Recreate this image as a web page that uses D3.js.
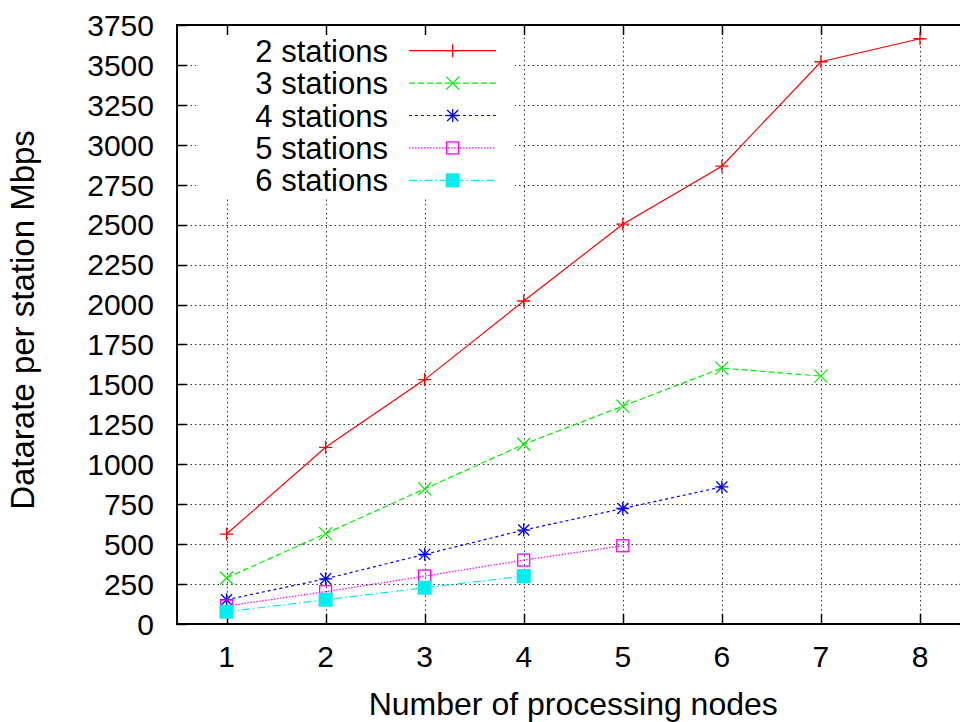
<!DOCTYPE html>
<html lang="en">
<head>
<meta charset="UTF-8">
<title>Datarate per station</title>
<script src="https://d3js.org/d3.v7.min.js"></script>
<style>
  body { margin: 0; background: #fff; }
  svg text { font-family: 'Liberation Sans', Arial, Helvetica, sans-serif; fill: #000; }
</style>
</head>
<body>
<svg id="chart" width="960" height="722"></svg>
<script>
// values
var nodes = [1, 2, 3, 4, 5, 6, 7, 8];
var st2 = [563, 1106, 1530, 2022, 2503, 2866, 3520, 3664];
var st3 = [288, 566, 846, 1125, 1364, 1602, 1552];
var st4 = [152, 283, 436, 588, 723, 858];
var st5 = [113, 202, 300, 400, 490];
var st6 = [77, 152, 227, 300];

var seriesNames = ['2 stations', '3 stations', '4 stations', '5 stations', '6 stations'];
var seriesValues = [st2, st3, st4, st5, st6];
var colors = ['#ff0000', '#00ee00', '#0000ff', '#ff00ff', '#00eeee'];
var dashes = [null, '6,3', '3,3', '1.5,1.5', '8,3,1.5,3'];
var markers = ['plus', 'cross', 'star', 'box', 'fbox'];

var yTicks = d3.range(0, 3751, 250);

var svg = d3.select('#chart');
var mLeft = 177, mTop = 25, mRight = 969.5, mBottom = 624;

var x = d3.scaleLinear().domain([0.5, 8.5]).range([mLeft, mRight]);
var y = d3.scaleLinear().domain([0, 3750]).range([mBottom, mTop]);

svg.append('defs').append('clipPath').attr('id', 'clip')
  .append('rect').attr('x', mLeft).attr('y', mTop)
  .attr('width', mRight - mLeft).attr('height', mBottom - mTop);

// grid
var grid = svg.append('g').attr('stroke', '#333').attr('stroke-width', 1)
  .attr('stroke-dasharray', '1.5,3');
grid.selectAll('.gx').data(nodes).enter().append('line')
  .attr('x1', function (d) { return Math.round(x(d)) + 0.5; })
  .attr('x2', function (d) { return Math.round(x(d)) + 0.5; })
  .attr('y1', mBottom).attr('y2', mTop);
grid.selectAll('.gy').data(yTicks.slice(1, -1)).enter().append('line')
  .attr('y1', function (d) { return Math.round(y(d)) + 0.5; })
  .attr('y2', function (d) { return Math.round(y(d)) + 0.5; })
  .attr('x1', mLeft).attr('x2', mRight);

// legend background hides the grid behind it
svg.append('rect').attr('x', 196).attr('y', 34).attr('width', 319).attr('height', 163)
  .attr('fill', '#fff');

// ticks (inward, mirrored)
var tl = 10;
var ticks = svg.append('g').attr('stroke', '#000').attr('stroke-width', 1.5);
nodes.forEach(function (d) {
  var px = Math.round(x(d)) + 0.5;
  ticks.append('line').attr('x1', px).attr('x2', px).attr('y1', mBottom).attr('y2', mBottom - tl);
  ticks.append('line').attr('x1', px).attr('x2', px).attr('y1', mTop).attr('y2', mTop + tl);
});
yTicks.forEach(function (d) {
  var py = Math.round(y(d)) + 0.5;
  ticks.append('line').attr('x1', mLeft).attr('x2', mLeft + tl).attr('y1', py).attr('y2', py);
  ticks.append('line').attr('x1', mRight).attr('x2', mRight - tl).attr('y1', py).attr('y2', py);
});

// tick labels
svg.append('g').selectAll('text').data(yTicks).enter().append('text')
  .attr('x', 154).attr('y', function (d) { return y(d); }).attr('dy', '0.36em')
  .attr('text-anchor', 'end').attr('font-size', 30).text(function (d) { return d; });
svg.append('g').selectAll('text').data(nodes).enter().append('text')
  .attr('x', function (d) { return x(d); }).attr('y', 667)
  .attr('text-anchor', 'middle').attr('font-size', 30).text(function (d) { return d; });

// axis titles
svg.append('text').attr('x', (mLeft + mRight) / 2).attr('y', 715)
  .attr('text-anchor', 'middle').attr('font-size', 32).text('Number of processing nodes');
svg.append('text').attr('transform', 'translate(34,320) rotate(-90)')
  .attr('text-anchor', 'middle').attr('font-size', 33).text('Datarate per station Mbps');

function drawMarker(g, type, cx, cy, color) {
  var s = 6.5;
  if (type === 'plus' || type === 'star') {
    g.append('path').attr('d', 'M' + (cx - s) + ',' + cy + 'H' + (cx + s) + 'M' + cx + ',' + (cy - s) + 'V' + (cy + s))
      .attr('stroke', color).attr('stroke-width', 1.3).attr('fill', 'none');
  }
  if (type === 'cross' || type === 'star') {
    var k = type === 'star' ? 5.5 : 6.5;
    g.append('path').attr('d', 'M' + (cx - k) + ',' + (cy - k) + 'L' + (cx + k) + ',' + (cy + k) +
      'M' + (cx - k) + ',' + (cy + k) + 'L' + (cx + k) + ',' + (cy - k))
      .attr('stroke', color).attr('stroke-width', 1.3).attr('fill', 'none');
  }
  if (type === 'box') {
    g.append('rect').attr('x', cx - 6).attr('y', cy - 6).attr('width', 12).attr('height', 12)
      .attr('stroke', color).attr('stroke-width', 1.3).attr('fill', 'none');
  }
  if (type === 'fbox') {
    g.append('rect').attr('x', cx - 7).attr('y', cy - 7).attr('width', 14).attr('height', 14)
      .attr('fill', color);
  }
}

var line = d3.line()
  .x(function (d, i) { return x(nodes[i]); })
  .y(function (d) { return y(d); });

var plot = svg.append('g').attr('clip-path', 'url(#clip)');
seriesValues.forEach(function (vals, si) {
  plot.append('path').datum(vals).attr('d', line)
    .attr('fill', 'none').attr('stroke', colors[si]).attr('stroke-width', 1.2)
    .attr('stroke-dasharray', dashes[si]);
  vals.forEach(function (v, i) {
    drawMarker(plot, markers[si], x(nodes[i]), y(v), colors[si]);
  });
});

// legend
var leg = svg.append('g');
seriesNames.forEach(function (name, si) {
  var ly = 50.7 + si * 32.4;
  leg.append('text').attr('x', 388).attr('y', ly).attr('dy', '0.36em')
    .attr('text-anchor', 'end').attr('font-size', 31).text(name);
  leg.append('line').attr('x1', 409).attr('x2', 496).attr('y1', ly).attr('y2', ly)
    .attr('stroke', colors[si]).attr('stroke-width', 1.2).attr('stroke-dasharray', dashes[si]);
  drawMarker(leg, markers[si], 452.7, ly, colors[si]);
});

// border
svg.append('rect').attr('x', mLeft).attr('y', mTop).attr('width', mRight - mLeft).attr('height', mBottom - mTop)
  .attr('fill', 'none').attr('stroke', '#000').attr('stroke-width', 2);
</script>
</body>
</html>
